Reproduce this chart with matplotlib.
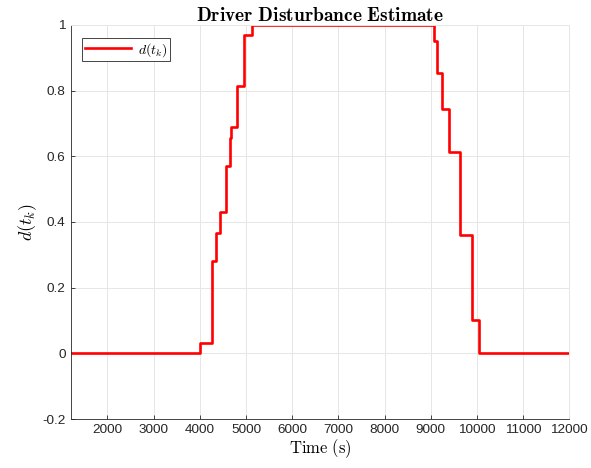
import matplotlib
matplotlib.use("Agg")
import matplotlib.pyplot as plt

plt.rcParams['mathtext.fontset'] = 'cm'
plt.rcParams['font.family'] = ['Liberation Sans', 'DejaVu Sans']

time_s = [1200, 4000, 4270, 4350, 4430, 4560, 4660, 4680, 4810, 4960, 5130,
          9060, 9140, 9250, 9390, 9640, 9900, 10040, 12000]
d_vals = [0, 0.031, 0.28, 0.365, 0.43, 0.57, 0.655, 0.69, 0.815, 0.97, 1.0,
          0.95, 0.855, 0.745, 0.613, 0.36, 0.10, 0, 0]
x_ticks = [2000, 3000, 4000, 5000, 6000, 7000, 8000, 9000, 10000, 11000, 12000]
y_ticks = [-0.2, 0, 0.2, 0.4, 0.6, 0.8, 1]
y_tick_labels = ['-0.2', '0', '0.2', '0.4', '0.6', '0.8', '1']

fig = plt.figure(figsize=(5.91, 4.68), dpi=100)
ax = fig.add_axes([0.1193, 0.1047, 0.9633 - 0.1193, 0.9466 - 0.1047])

ax.step(time_s, d_vals, where='post', color='#ff0000', lw=1.9, label=r'$d(t_k)$')

ax.set_xlim(1200, 12000)
ax.set_ylim(-0.2, 1)
ax.set_xticks(x_ticks)
ax.set_xticklabels([str(t) for t in x_ticks])
ax.set_yticks(y_ticks)
ax.set_yticklabels(y_tick_labels)
ax.tick_params(direction='in', length=3, width=0.6, labelsize=9.7, colors='#262626',
               top=False, right=False)
ax.grid(True, color='#e6e6e6', lw=0.7)
ax.set_axisbelow(True)
for s in ['left', 'bottom']:
    ax.spines[s].set_color('#262626')
    ax.spines[s].set_linewidth(0.6)
for s in ['top', 'right']:
    ax.spines[s].set_color('#e6e6e6')
    ax.spines[s].set_linewidth(0.7)

ax.set_title(r'$\mathbf{Driver\ Disturbance\ Estimate}$', fontsize=14, pad=2)
ax.set_xlabel(r'$\mathrm{Time\ (s)}$', fontsize=12, labelpad=1)
ax.set_ylabel(r'$d(t_k)$', fontsize=13, labelpad=2)

leg = ax.legend(loc='upper left', fontsize=10, fancybox=False, framealpha=1,
                edgecolor='#262626', handlelength=3.3, borderpad=0.2,
                handletextpad=0.5, borderaxespad=0,
                bbox_to_anchor=(0.023, 0.967))
leg.get_frame().set_linewidth(0.6)

fig.savefig('out.png', dpi=100)
